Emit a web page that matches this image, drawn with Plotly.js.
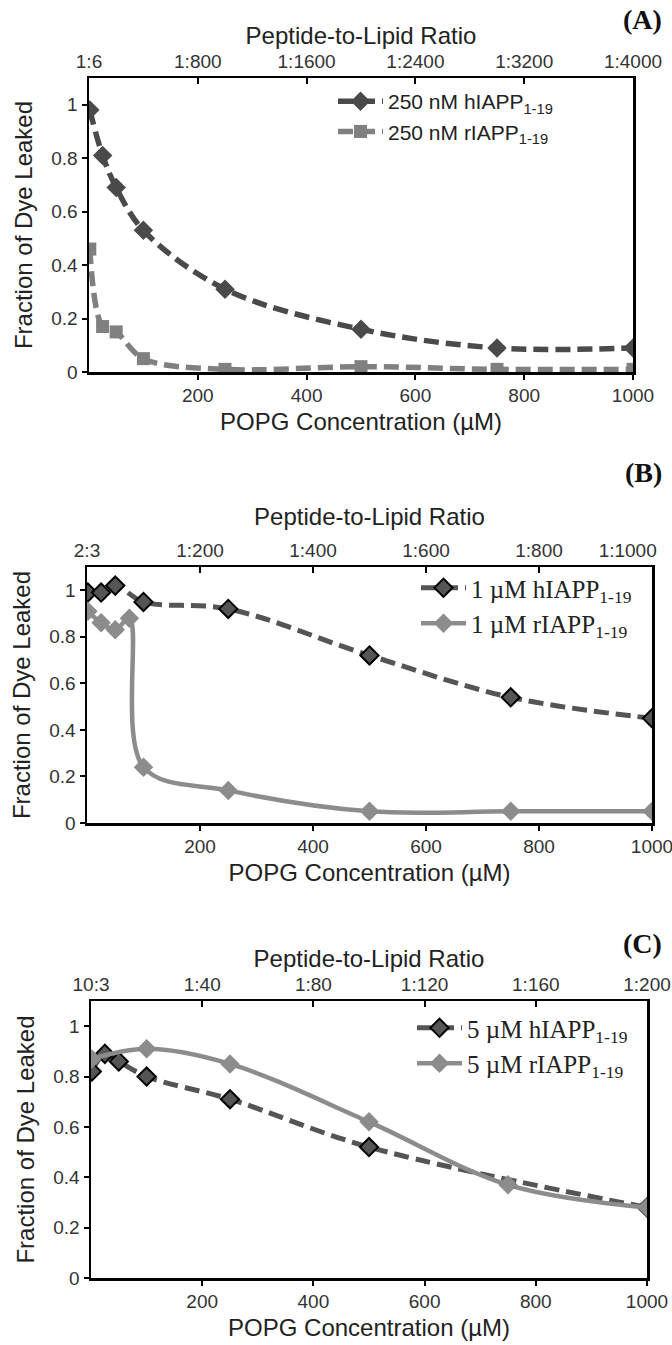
<!DOCTYPE html>
<html>
<head>
<meta charset="utf-8">
<script src="https://cdn.plot.ly/plotly-3.0.1.min.js"></script>
<style>html,body{margin:0;padding:0;background:#fff;}#chart{width:672px;height:1345px;}</style>
</head>
<body>
<div id="chart"></div>
<script>
// ---------- Data ----------
// Panel A (250 nM peptide)
const xA_h = [1.5, 25, 50, 100, 250, 500, 750, 1000];
const yA_h = [0.98, 0.81, 0.69, 0.53, 0.31, 0.16, 0.09, 0.09];
const xA_r = [1.5, 25, 50, 100, 250, 500, 750, 1000];
const yA_r = [0.46, 0.17, 0.15, 0.05, 0.01, 0.02, 0.01, 0.01];
// Panel B (1 µM peptide)
const xB_h = [1.5, 25, 50, 100, 250, 500, 750, 1000];
const yB_h = [0.99, 0.99, 1.02, 0.95, 0.92, 0.72, 0.54, 0.45];
const xB_r = [1.5, 25, 50, 75, 100, 250, 500, 750, 1000];
const yB_r = [0.91, 0.86, 0.83, 0.88, 0.24, 0.14, 0.05, 0.05, 0.05];
// Panel C (5 µM peptide)
const xC_h = [1.5, 25, 50, 100, 250, 500, 1000];
const yC_h = [0.82, 0.89, 0.86, 0.80, 0.71, 0.52, 0.28];
const xC_r = [1.5, 100, 250, 500, 750, 1000];
const yC_r = [0.87, 0.91, 0.85, 0.62, 0.37, 0.28];

// Axis ticks
const bottomTicks = [200, 400, 600, 800, 1000];
const topTickVals = [0, 200, 400, 600, 800, 1000];
const topTextA = ["1:6", "1:800", "1:1600", "1:2400", "1:3200", "1:4000"];
const topTextB = ["2:3", "1:200", "1:400", "1:600", "1:800", "1:1000"];
const topTextC = ["10:3", "1:40", "1:80", "1:120", "1:160", "1:200"];
const yTicks = [0, 0.2, 0.4, 0.6, 0.8, 1];

// Legend names
const namesA = ["250 nM hIAPP<sub>1-19</sub>", "250 nM rIAPP<sub>1-19</sub>"];
const namesB = ["1 µM hIAPP<sub>1-19</sub>", "1 µM rIAPP<sub>1-19</sub>"];
const namesC = ["5 µM hIAPP<sub>1-19</sub>", "5 µM rIAPP<sub>1-19</sub>"];

// ---------- Styling ----------
const W = 672, H = 1345;
const px = v => v / W;
const py = v => 1 - v / H;
const SANS = "Liberation Sans, Arial, sans-serif";
const SERIF = "Liberation Serif, Times New Roman, serif";
const DARK = "#4a4a4a", MID = "#808080", LIGHT = "#8c8c8c";
const tickFont = {family: SANS, size: 19, color: "#333"};
const titleFont = {family: SANS, size: 24, color: "#222"};

// panels in px
const panels = [
  {l: 89, r: 633, t: 78, b: 372, ts: 0},
  {l: 87, r: 652, t: 567, b: 823, ts: 8},
  {l: 91, r: 647, t: 1001, b: 1278, ts: 0}
];

function xBottom(p, anchor) {
  return {
    domain: [px(p.l), px(p.r)], anchor: anchor, range: [0, 1000],
    tickvals: bottomTicks, ticks: "outside", ticklen: 5, tickwidth: 2, tickcolor: "#000",
    showline: true, linecolor: "#000", linewidth: 2.5, mirror: false,
    showgrid: false, zeroline: false, tickfont: tickFont, ticklabeloverflow: "allow",
    title: {text: "POPG Concentration (µM)", font: titleFont, standoff: 8},
    automargin: false
  };
}
function xTop(p, overlay, anchor, text) {
  return {
    domain: [px(p.l), px(p.r)], overlaying: overlay, anchor: anchor, side: "top", range: [0, 1000],
    tickvals: topTickVals, ticktext: text, ticks: "inside", ticklen: 6, tickwidth: 2, tickcolor: "#000",
    showline: true, linecolor: "#000", linewidth: 2.5,
    showgrid: false, zeroline: false, tickfont: tickFont, ticklabeloverflow: "allow",
    title: {text: "Peptide-to-Lipid Ratio", font: titleFont, standoff: p.ts},
    automargin: false
  };
}
function yAxis(p, anchor) {
  return {
    domain: [py(p.b), py(p.t)], anchor: anchor, range: [0, 1.1],
    tickvals: yTicks, ticks: "outside", ticklen: 5, tickwidth: 2, tickcolor: "#000",
    showline: true, linecolor: "#000", linewidth: 2.5, mirror: true,
    showgrid: false, zeroline: false, tickfont: tickFont,
    title: {text: "Fraction of Dye Leaked", font: titleFont, standoff: 12},
    automargin: false
  };
}

const traces = [
  // Panel A
  {x: xA_h, y: yA_h, xaxis: "x", yaxis: "y", name: namesA[0], legend: "legend",
   mode: "lines+markers", line: {shape: "spline", color: DARK, width: 5.5, dash: "15px,7px"},
   marker: {symbol: "diamond", size: 15, color: DARK}},
  {x: xA_r, y: yA_r, xaxis: "x", yaxis: "y", name: namesA[1], legend: "legend",
   mode: "lines+markers", line: {shape: "spline", color: MID, width: 5.5, dash: "15px,7px"},
   marker: {symbol: "square", size: 13, color: MID}},
  // Panel B
  {x: xB_h, y: yB_h, xaxis: "x3", yaxis: "y2", name: namesB[0], legend: "legend2",
   mode: "lines+markers", line: {shape: "spline", color: "#555", width: 5, dash: "15px,7px"},
   marker: {symbol: "diamond", size: 14, color: "#555", line: {color: "#000", width: 2}}},
  {x: xB_r, y: yB_r, xaxis: "x3", yaxis: "y2", name: namesB[1], legend: "legend2",
   mode: "lines+markers", line: {shape: "spline", color: LIGHT, width: 4.5},
   marker: {symbol: "diamond", size: 15, color: LIGHT}},
  // Panel C
  {x: xC_h, y: yC_h, xaxis: "x5", yaxis: "y3", name: namesC[0], legend: "legend3",
   mode: "lines+markers", line: {shape: "spline", color: "#555", width: 5, dash: "15px,7px"},
   marker: {symbol: "diamond", size: 14, color: "#555", line: {color: "#000", width: 2}}},
  {x: xC_r, y: yC_r, xaxis: "x5", yaxis: "y3", name: namesC[1], legend: "legend3",
   mode: "lines+markers", line: {shape: "spline", color: LIGHT, width: 4.5},
   marker: {symbol: "diamond", size: 15, color: LIGHT}},
  // invisible traces to activate the top axes
  {x: [0], y: [0], xaxis: "x2", yaxis: "y", showlegend: false, mode: "markers", marker: {opacity: 0}, hoverinfo: "skip"},
  {x: [0], y: [0], xaxis: "x4", yaxis: "y2", showlegend: false, mode: "markers", marker: {opacity: 0}, hoverinfo: "skip"},
  {x: [0], y: [0], xaxis: "x6", yaxis: "y3", showlegend: false, mode: "markers", marker: {opacity: 0}, hoverinfo: "skip"},
  {x: [0], y: [0], xaxis: "x7", yaxis: "y2", showlegend: false, mode: "markers", marker: {opacity: 0}, hoverinfo: "skip"}
];

const legendBase = {bgcolor: "rgba(0,0,0,0)", borderwidth: 0, xanchor: "left", yanchor: "top",
  itemwidth: 45, traceorder: "normal", tracegroupgap: 0};

// top axis of B: the last label sits inside the right edge, as in the reference
const topB = xTop(panels[1], "x3", "y2", topTextB.slice(0, 5).concat([""]));
const topBLast = {
  domain: [px(panels[1].l), px(panels[1].r)], overlaying: "x3", anchor: "y2", side: "top", range: [0, 1000],
  tickvals: [957], ticktext: [topTextB[5]], ticks: "inside", ticklen: 6, tickwidth: 2, tickcolor: "rgba(0,0,0,0)",
  showline: true, linecolor: "rgba(0,0,0,0)", linewidth: 2.5, showgrid: false, zeroline: false,
  tickfont: tickFont, ticklabeloverflow: "allow", automargin: false
};

const layout = {
  width: W, height: H, margin: {l: 0, r: 0, t: 0, b: 0},
  paper_bgcolor: "#fff", plot_bgcolor: "#fff",
  xaxis: xBottom(panels[0], "y"),
  xaxis2: xTop(panels[0], "x", "y", topTextA),
  yaxis: yAxis(panels[0], "x"),
  xaxis3: xBottom(panels[1], "y2"),
  xaxis4: topB,
  xaxis7: topBLast,
  yaxis2: yAxis(panels[1], "x3"),
  xaxis5: xBottom(panels[2], "y3"),
  xaxis6: xTop(panels[2], "x5", "y3", topTextC),
  yaxis3: yAxis(panels[2], "x5"),
  legend: Object.assign({}, legendBase, {x: px(333), y: py(81), font: {family: SANS, size: 21, color: "#222"}}),
  legend2: Object.assign({}, legendBase, {x: px(416), y: py(565), font: {family: SERIF, size: 25, color: "#222"}}),
  legend3: Object.assign({}, legendBase, {x: px(412), y: py(1005), font: {family: SERIF, size: 25, color: "#222"}}),
  annotations: [
    {text: "<b>(A)</b>", x: px(664), y: py(19), xref: "paper", yref: "paper", xanchor: "right", yanchor: "middle", showarrow: false, font: {family: SERIF, size: 28, color: "#111"}},
    {text: "<b>(B)</b>", x: px(664), y: py(472), xref: "paper", yref: "paper", xanchor: "right", yanchor: "middle", showarrow: false, font: {family: SERIF, size: 28, color: "#111"}},
    {text: "<b>(C)</b>", x: px(664), y: py(943), xref: "paper", yref: "paper", xanchor: "right", yanchor: "middle", showarrow: false, font: {family: SERIF, size: 28, color: "#111"}}
  ],
  showlegend: true
};

Plotly.newPlot("chart", traces, layout, {staticPlot: true, displayModeBar: false});
</script>
</body>
</html>
